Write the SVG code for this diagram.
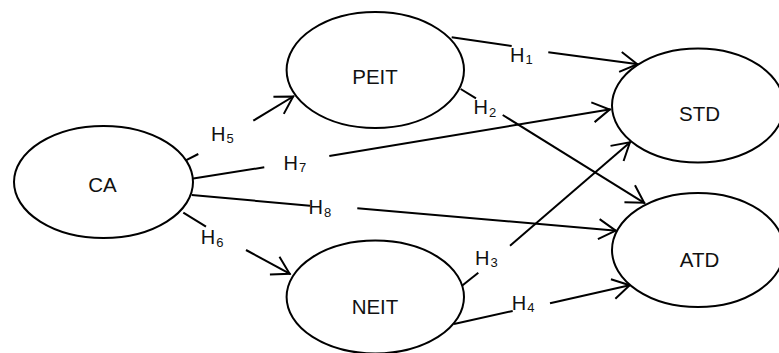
<svg xmlns="http://www.w3.org/2000/svg" width="779" height="353" viewBox="0 0 779 353">
<style>
.node ellipse{fill:#fff;stroke:#000;stroke-width:2}
.lbl{font-family:"Liberation Sans",Arial,sans-serif;font-size:20.5px;fill:#111;text-anchor:middle}
.h{font-family:"Liberation Sans",Arial,sans-serif;font-size:20px;fill:#111}
.sub{font-size:13px}
.conn path{fill:none;stroke:#000;stroke-width:2}
</style>
<defs>
<marker id="arr" markerUnits="userSpaceOnUse" markerWidth="26" markerHeight="26" viewBox="-22 -13 26 26" refX="1" refY="0" orient="auto" overflow="visible">
<path d="M-17,-10 L0,0 L-17,10" fill="none" stroke="#000" stroke-width="2"/>
</marker>
</defs>
<rect width="779" height="353" fill="#fff"/>
<g id="connectors" class="conn">
<path d="M183.3,161.7 L198.3,154"/>
<path d="M253.3,120.7 L294,96" marker-end="url(#arr)"/>
<path d="M183.3,212.7 L206,226.7"/>
<path d="M246,250 L290.5,274.2" marker-end="url(#arr)"/>
<path d="M191.7,178.7 L264.3,167.3"/>
<path d="M329.3,156 L610.7,109.3" marker-end="url(#arr)"/>
<path d="M191.7,195 L310,205.7"/>
<path d="M357.3,208.3 L616.7,230.7" marker-end="url(#arr)"/>
<path d="M451.7,37.3 L511.7,46"/>
<path d="M548.3,52.3 L638.3,64.3" marker-end="url(#arr)"/>
<path d="M460.7,89 L476,98.3"/>
<path d="M502.7,115 L645,203.3" marker-end="url(#arr)"/>
<path d="M461.7,286 L478.3,272.7"/>
<path d="M510,245.7 L630.7,141.7" marker-end="url(#arr)"/>
<path d="M454,324 L512.7,311"/>
<path d="M550,303.3 L630.7,285" marker-end="url(#arr)"/>
</g>
<g id="labels">
<text class="h" x="510" y="62">H<tspan class="sub" dx="1" dy="1.5">1</tspan></text>
<text class="h" x="473.5" y="114.3">H<tspan class="sub" dx="1" dy="2.4">2</tspan></text>
<text class="h" x="475" y="265">H<tspan class="sub" dx="1" dy="2.3">3</tspan></text>
<text class="h" x="511.7" y="310">H<tspan class="sub" dx="1" dy="1.7">4</tspan></text>
<text class="h" x="211" y="141">H<tspan class="sub" dx="1" dy="1.7">5</tspan></text>
<text class="h" x="200.7" y="244">H<tspan class="sub" dx="1" dy="2.7">6</tspan></text>
<text class="h" x="283.5" y="170">H<tspan class="sub" dx="1" dy="1.7">7</tspan></text>
<text class="h" x="308.5" y="214.3">H<tspan class="sub" dx="1" dy="2.4">8</tspan></text>
</g>
<g id="CA" class="node"><ellipse cx="103.5" cy="182" rx="89.5" ry="56"/><text class="lbl" x="102.5" y="192">CA</text></g>
<g id="PEIT" class="node"><ellipse cx="375.3" cy="70" rx="88.7" ry="58"/><text class="lbl" x="375" y="84">PEIT</text></g>
<g id="NEIT" class="node"><ellipse cx="375.3" cy="297" rx="88.7" ry="56.5"/><text class="lbl" x="375" y="314">NEIT</text></g>
<g id="STD" class="node"><ellipse cx="698" cy="105.5" rx="86" ry="57"/><text class="lbl" x="699.5" y="121">STD</text></g>
<g id="ATD" class="node"><ellipse cx="698" cy="250" rx="86" ry="57"/><text class="lbl" x="699.5" y="266.7">ATD</text></g>
</svg>
